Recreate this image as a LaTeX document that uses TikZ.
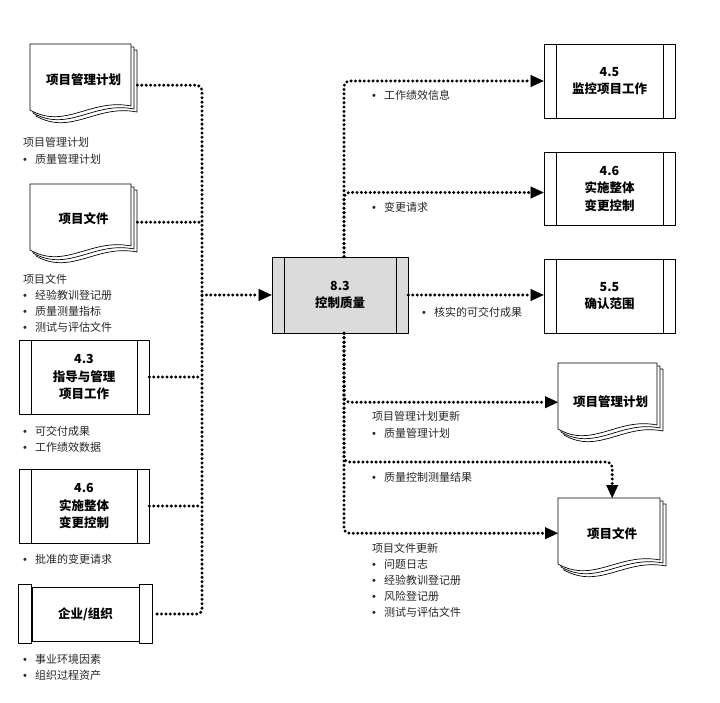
\documentclass[tikz,border=0pt]{standalone}
\usepackage{fontspec}
\setmainfont{Noto Sans CJK SC}
\newfontfamily\bulfont{Liberation Sans}
\usetikzlibrary{arrows.meta,positioning}

\newcommand\bul{\makebox[12pt][l]{\bulfont •}}
% stacked sheets of a document symbol, #1 x, #2 y (top left), #3 width
\newcommand\docsheets[3]{%
  \foreach \k in {6,3,0}{
    \draw[line width=0.7pt, fill=white, shift={(#1+\k,#2+\k)}]
      (0,0) -- (#3,0) -- (#3,62) .. controls (0.6*#3,54) and (0.35*#3,86) .. (0,66) -- cycle;
  }}

\begin{document}
\begin{tikzpicture}[x=1pt,y=-1pt,line join=round,
    boxfont/.style={font=\fontsize{12.5}{17.5}\selectfont\bfseries},
    proc/.style={draw, line width=0.7pt, fill=white, minimum width=130pt, minimum height=74pt,
      inner sep=0pt, align=center, boxfont,
      path picture={
        \draw[line width=0.7pt] ([xshift=12.5pt]path picture bounding box.north west) -- ([xshift=12.5pt]path picture bounding box.south west);
        \draw[line width=0.7pt] ([xshift=-11.5pt]path picture bounding box.north east) -- ([xshift=-11.5pt]path picture bounding box.south east);}},
    doc/.style={anchor=north west, minimum width=107pt, inner sep=0pt, align=center, boxfont},
    bar/.style={draw, line width=0.7pt, fill=white, minimum width=13pt, minimum height=59pt, inner sep=0pt},
    note/.style={anchor=north west, inner sep=0pt, align=left, text=black!85,
      font=\fontsize{11}{16.2}\selectfont},
    dotline/.style={line width=3.3pt, dash pattern=on 0pt off 4.4pt, line cap=round, rounded corners=5pt},
    flow/.style={dotline, -{Triangle[length=13pt,width=12pt,line width=0.4pt]}}]
  \useasboundingbox (0,0) rectangle (720,703);

  % inputs
  \docsheets{30}{44}{101}
  \node[doc, minimum height=72pt] (pmp) at (30,44) {项目管理计划};
  \docsheets{30}{184}{101}
  \node[doc, minimum height=70pt] (pd) at (30,184) {项目文件};
  \node[proc] (dm) at (84,377) {4.3\\指导与管理\\项目工作};
  \node[proc] (icl) at (84,506) {4.6\\实施整体\\变更控制};
  \node[draw, line width=0.7pt, minimum width=107pt, minimum height=54pt, boxfont] (ent) at (85.5,614) {企业/组织};
  \node[bar, left=0pt of ent] (entl) {};
  \node[bar, right=0pt of ent] (entr) {};

  % process
  \node[proc, fill=black!14, minimum width=136pt, minimum height=76pt] (cq) at (340,295) {8.3\\控制质量};

  % outputs
  \node[proc, minimum width=131pt] (mpw) at (609.5,81) {4.5\\监控项目工作};
  \node[proc, minimum width=131pt, minimum height=73pt] (icr) at (609.5,188.5) {4.6\\实施整体\\变更控制};
  \node[proc, minimum width=131pt] (vs) at (609.5,296) {5.5\\确认范围};
  \docsheets{558}{363}{99}
  \node[doc, minimum width=105pt, minimum height=78pt] (pmpu) at (558,363) {项目管理计划};
  \docsheets{558}{498}{102}
  \node[doc, minimum width=108pt, minimum height=70pt] (pdu) at (558,498) {项目文件};

  % notes
  \node[note] (pmpnote) at (23,137.5) {项目管理计划\\\bul 质量管理计划};
  \node[note] (pdnote) at (23,273.5) {项目文件\\\bul 经验教训登记册\\\bul 质量测量指标\\\bul 测试与评估文件};
  \node[note] (dmnote) at (23,425.5) {\bul 可交付成果\\\bul 工作绩效数据};
  \node[note] (iclnote) at (23,553.5) {\bul 批准的变更请求};
  \node[note] (entnote) at (23,653.5) {\bul 事业环境因素\\\bul 组织过程资产};
  \node[note] (mpwnote) at (372,89.5) {\bul 工作绩效信息};
  \node[note] (icrnote) at (372,201.5) {\bul 变更请求};
  \node[note] (vsnote) at (422,306.5) {\bul 核实的可交付成果};
  \node[note] (pmpunote) at (372,411.5) {项目管理计划更新\\\bul 质量管理计划};
  \node[note] (qcmnote) at (372,472.5) {\bul 质量控制测量结果};
  \node[note] (pdunote) at (372,542.5) {项目文件更新\\\bul 问题日志\\\bul 经验教训登记册\\\bul 风险登记册\\\bul 测试与评估文件};

  % buses
  \coordinate (lbus) at (202,400);
  \coordinate (rbus) at (344,0);
  \coordinate (qcm) at (0,462);
  \coordinate (pmpout) at ([yshift=-5pt]pmp.east);
  \coordinate (pdout) at ([yshift=-3pt]pd.east);
  \coordinate (icrin) at ([yshift=-4pt]icr.west);

  \draw[dotline] (pmpout) -| (lbus) |- (entr.east);
  \draw[dotline] (pdout) -- (pdout -| lbus);
  \draw[dotline] (dm.east) -- (dm.east -| lbus);
  \draw[dotline] (icl.east) -- (icl.east -| lbus);
  \draw[flow] (cq.west -| lbus) -- (cq.west);

  \draw[flow] (cq.north -| rbus) |- (mpw.west);
  \draw[flow] (cq.north -| rbus) |- (icrin);
  \draw[flow] (cq.east) -- (cq.east -| vs.west);
  \draw[flow] (cq.south -| rbus) |- (pmpu.west);
  \draw[flow] (cq.south -| rbus) |- (pdu.north |- qcm) -- (pdu.north);
  \draw[flow] (cq.south -| rbus) |- (pdu.west);
\end{tikzpicture}
\end{document}
